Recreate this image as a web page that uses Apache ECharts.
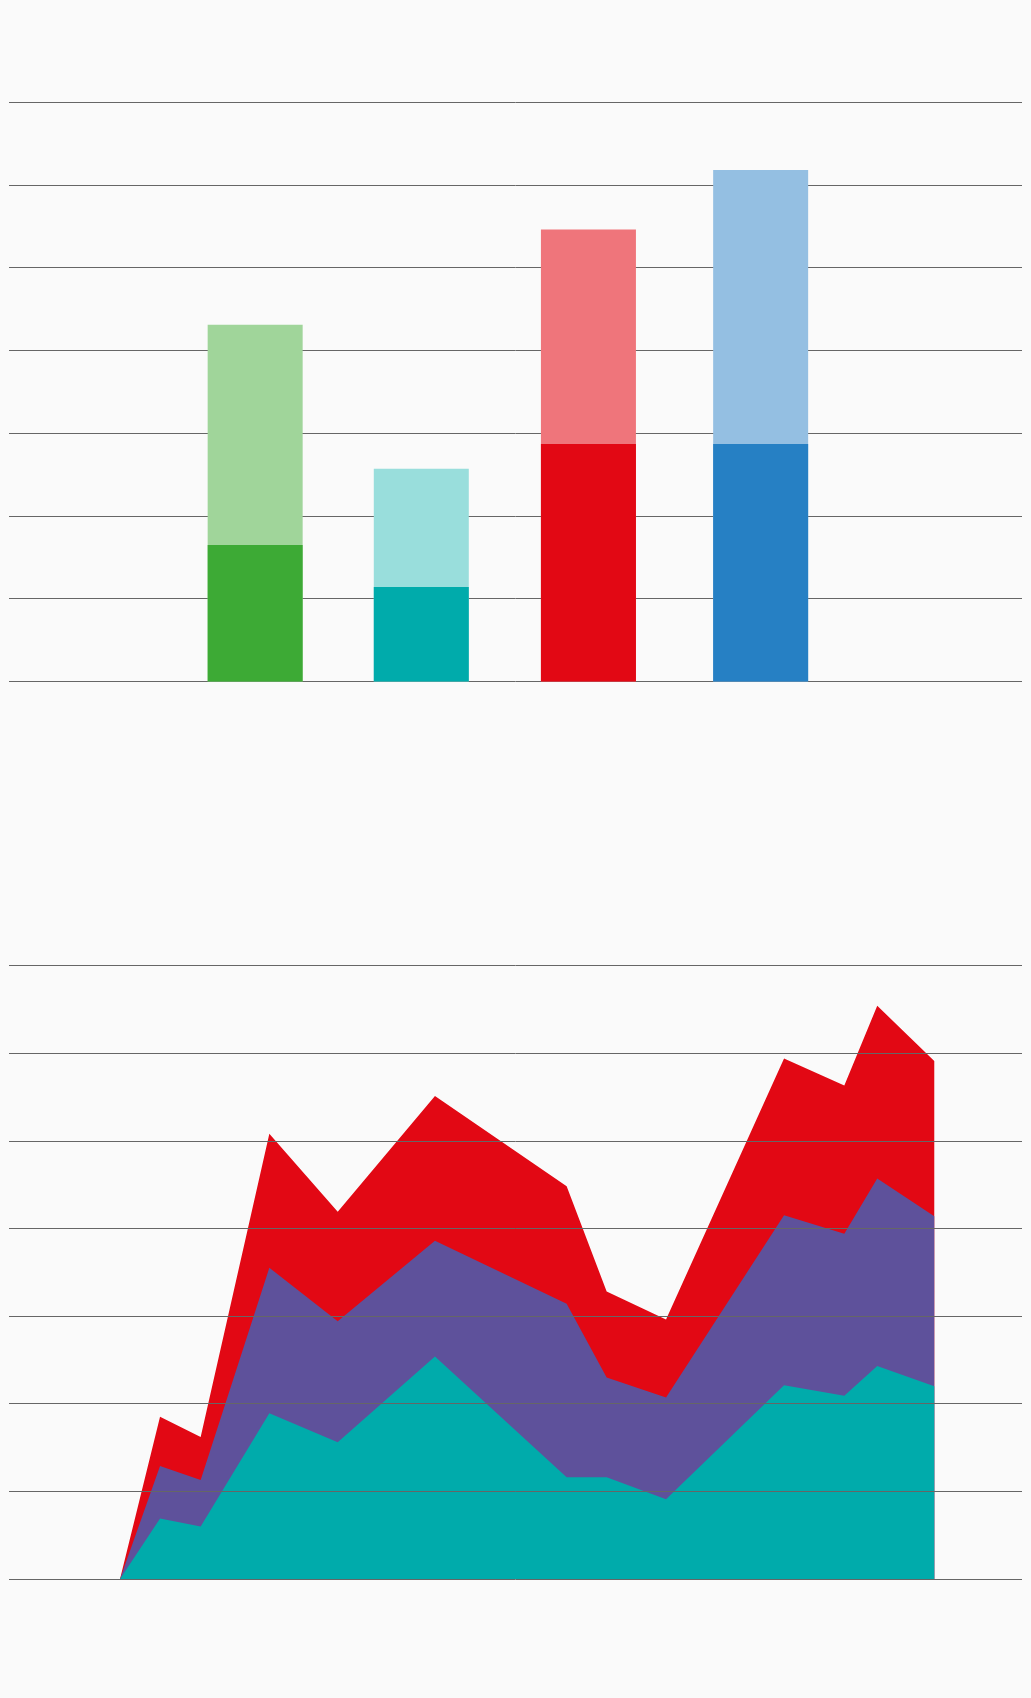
<!DOCTYPE html>
<html>
<head>
<meta charset="utf-8">
<script src="https://cdn.jsdelivr.net/npm/echarts@6/dist/echarts.min.js"></script>
<style>
html, body { margin: 0; padding: 0; background: #fafafa; }
#chart { width: 1031px; height: 1698px; }
</style>
</head>
<body>
<div id="chart"></div>
<script>
// ---- Top chart: stacked bars (positions on a 0–100 horizontal scale) ----
const barPositions = [24.3, 40.7, 57.2, 74.2];
const barBaseValues = [16.5, 11.4, 28.7, 28.7];
const barTopValues = [26.6, 14.3, 25.9, 33.1];
const barBaseColors = ['#3daa35', '#00abab', '#e20814', '#2680c4'];
const barTopColors = ['#a0d59a', '#99dedc', '#ef757b', '#94bfe2'];

// ---- Bottom chart: stacked areas ----
const areaX = [10.96, 14.91, 18.92, 25.70, 32.45, 42.05, 55.05, 59.00, 64.86, 76.51, 82.46, 85.71, 91.34];
const tealValues = [0, 6.9, 6.0, 18.9, 15.6, 25.4, 11.6, 11.6, 9.1, 22.1, 20.9, 24.3, 22.0];
const purpleValues = [0, 6.0, 5.3, 16.6, 13.8, 13.2, 19.8, 11.4, 11.6, 19.4, 18.5, 21.4, 19.4];
const redValues = [0, 5.6, 4.9, 15.3, 12.5, 16.5, 13.4, 9.8, 8.9, 17.9, 16.9, 19.7, 17.7];

const yTicks = { min: 0, max: 70, interval: 10 };

// manual stacking (cumulative sums), drawn back-to-front
const addArr = (a, b) => a.map((v, i) => v + b[i]);
const barTotals = addArr(barBaseValues, barTopValues);
const cumTeal = tealValues.slice();
const cumPurple = addArr(cumTeal, purpleValues);
const cumRed = addArr(cumPurple, redValues);

const pair = (xs, ys) => xs.map((x, i) => [x, ys[i]]);

const chart = echarts.init(document.getElementById('chart'), null, { renderer: 'canvas' });

const gridLine = { show: true, lineStyle: { color: '#666', width: 1, type: 'solid' } };

const areaSeries = (vals, color, z) => ({
  type: 'line', xAxisIndex: 1, yAxisIndex: 1, z: z,
  data: pair(areaX, vals),
  showSymbol: false, symbol: 'none',
  lineStyle: { width: 0 },
  areaStyle: { color: color, opacity: 1, origin: 'start' },
  itemStyle: { color: color }
});

chart.setOption({
  backgroundColor: '#fafafa',
  animation: false,
  grid: [
    { left: 9, right: 9, top: 102, height: 579.5 },
    { left: 9, right: 9, top: 965.5, height: 613.5 }
  ],
  xAxis: [
    { gridIndex: 0, type: 'value', min: 0, max: 100, show: false },
    { gridIndex: 1, type: 'value', min: 0, max: 100, show: false }
  ],
  yAxis: [
    {
      gridIndex: 0, type: 'value', min: yTicks.min, max: yTicks.max, interval: yTicks.interval,
      axisLine: { show: false }, axisTick: { show: false }, axisLabel: { show: false },
      splitLine: gridLine
    },
    {
      gridIndex: 1, type: 'value', min: yTicks.min, max: yTicks.max, interval: yTicks.interval,
      z: 10,
      axisLine: { show: false }, axisTick: { show: false }, axisLabel: { show: false },
      splitLine: gridLine
    }
  ],
  series: [
    {
      type: 'bar', xAxisIndex: 0, yAxisIndex: 0, barWidth: 95, barGap: '-100%', z: 2,
      data: pair(barPositions, barTotals),
      itemStyle: { color: (p) => barTopColors[p.dataIndex] }
    },
    {
      type: 'bar', xAxisIndex: 0, yAxisIndex: 0, barWidth: 95, barGap: '-100%', z: 3,
      data: pair(barPositions, barBaseValues),
      itemStyle: { color: (p) => barBaseColors[p.dataIndex] }
    },
    areaSeries(cumRed, '#e20814', 2),
    areaSeries(cumPurple, '#5e519b', 3),
    areaSeries(cumTeal, '#00abab', 4)
  ]
});
</script>
</body>
</html>
